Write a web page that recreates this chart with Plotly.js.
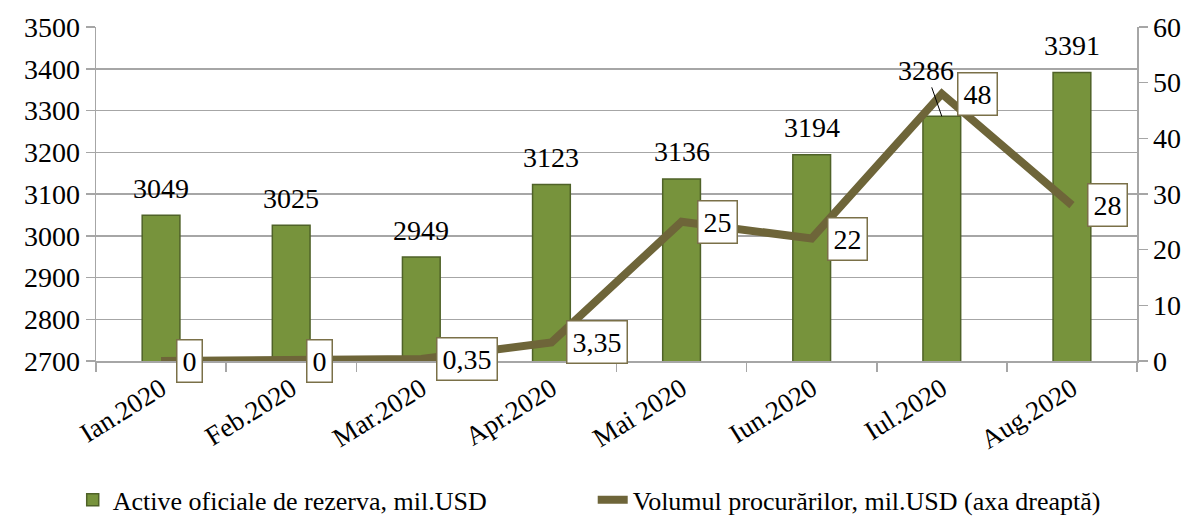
<!DOCTYPE html>
<html>
<head>
<meta charset="utf-8">
<script src="https://cdn.plot.ly/plotly-3.0.1.min.js"></script>
<style>html,body{margin:0;padding:0;background:#fff}#chart{width:1192px;height:518px}</style>
</head>
<body>
<div id="chart"></div>
<script>
const categories = ["Ian.2020","Feb.2020","Mar.2020","Apr.2020","Mai 2020","Iun.2020","Iul.2020","Aug.2020"];
const reserves = [3049,3025,2949,3123,3136,3194,3286,3391];
const purchases = [0,0,0.35,3.35,25,22,48,28];
const purchaseLabels = ["0","0","0,35","3,35","25","22","48","28"];
const leftTicks = [2700,2800,2900,3000,3100,3200,3300,3400,3500];
const rightTicks = [0,10,20,30,40,50,60];
const seriesNames = ["Active oficiale de rezerva, mil.USD","Volumul procurărilor, mil.USD (axa dreaptă)"];

const FONT = "Liberation Serif, Times New Roman, serif";
const GRID = "#A6A6A6";
const LINEC = "#6E6539";

const traces = [
  {type:"bar", x:categories, y:reserves, name:seriesNames[0], yaxis:"y",
   marker:{color:"#77933C", line:{color:"#4F6228", width:1.5}}, width:0.29,
   hoverinfo:"none"},
  {type:"scatter", mode:"lines", x:categories, y:purchases, name:seriesNames[1], yaxis:"y2",
   line:{color:LINEC, width:8}, hoverinfo:"none"}
];

const annotations = [];
categories.forEach((c,i)=>{
  const isJul = (i===6);
  annotations.push({
    x:c, y:reserves[i], xref:"x", yref:"y",
    text:String(reserves[i]), font:{family:FONT, size:28, color:"#000"},
    showarrow:isJul, arrowhead:0, arrowwidth:1, arrowcolor:"#000",
    ax:isJul?-16:0, ay:isJul?-46:0, standoff:0,
    yshift:isJul?0:27, yanchor:isJul?undefined:"middle"
  });
  annotations.push({
    x:c, y:purchases[i], xref:"x", yref:"y2",
    text:purchaseLabels[i], font:{family:FONT, size:28, color:"#000"},
    showarrow:false, xanchor:"left", yanchor:"middle", xshift:15,
    bgcolor:"#fff", bordercolor:"#7A7048", borderwidth:1.5, borderpad:5
  });
});

const layout = {
  width:1192, height:518,
  margin:{l:96, r:55, t:27, b:157, autoexpand:false},
  paper_bgcolor:"#fff", plot_bgcolor:"#fff",
  font:{family:FONT, size:28, color:"#000"},
  showlegend:true,
  legend:{orientation:"h", xref:"container", x:0.061, xanchor:"left",
          yref:"container", y:0.035, yanchor:"middle",
          font:{family:FONT, size:26, color:"#000"}, entrywidth:475, tracegroupgap:0},
  bargap:0.71,
  xaxis:{type:"category", range:[-0.5,7.5], tickangle:-32, showline:true, linecolor:GRID, linewidth:1.5,
         ticks:"outside", tickson:"boundaries", ticklen:9, tickcolor:GRID, tickwidth:1.5,
         tickfont:{family:FONT, size:27}, showgrid:false, automargin:false},
  yaxis:{range:[2700,3500], tickvals:leftTicks, showline:true, linecolor:GRID, linewidth:1.5,
         ticks:"outside", ticklen:9, tickcolor:GRID, tickwidth:1.5,
         showgrid:true, gridcolor:GRID, gridwidth:1.5, zeroline:false,
         tickfont:{family:FONT, size:28}, automargin:false},
  yaxis2:{range:[0,60], tickvals:rightTicks, overlaying:"y", side:"right", showline:true,
          linecolor:GRID, linewidth:1.5, ticks:"outside", ticklen:9, tickcolor:GRID, tickwidth:1.5,
          showgrid:false, zeroline:false, tickfont:{family:FONT, size:28}, automargin:false},
  annotations:annotations
};

Plotly.newPlot("chart", traces, layout, {displayModeBar:false, staticPlot:true});
</script>
</body>
</html>
